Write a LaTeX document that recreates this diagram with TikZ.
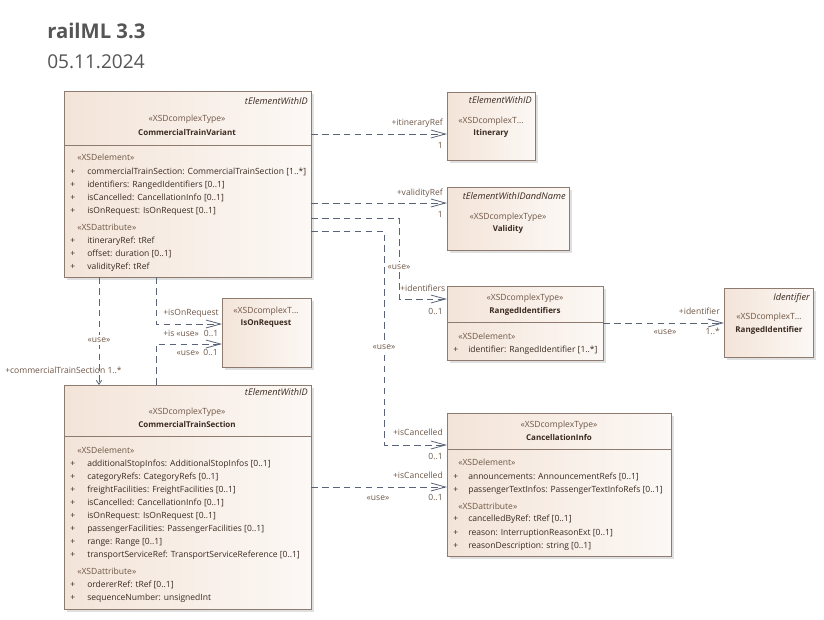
\documentclass[tikz,border=0pt]{standalone}
\usepackage{fontspec}
\setmainfont{Open Sans}
\usetikzlibrary{arrows.meta,shadows}

\definecolor{clsborder}{HTML}{8E7B70}
\definecolor{clsfillA}{HTML}{F3E4D8}
\definecolor{clsfillB}{HTML}{FCF8F5}
\definecolor{txtdark}{HTML}{3A2A20}
\definecolor{txtlight}{HTML}{6E5646}
\definecolor{wire}{HTML}{5B6378}
\definecolor{titlegray}{HTML}{555555}

\newcommand\ft{\fontsize{6.4pt}{7.6pt}\selectfont}
\newcommand\ftb{\fontsize{6.0pt}{7.2pt}\selectfont\bfseries}
\newcommand\fti{\fontsize{6.9pt}{8pt}\selectfont\itshape}
% class box: name, x1, y1, x2, y2 (pixel grid)
\newcommand\clsbox[5]{%
  \node[cls, anchor=north west, minimum width={(#4-#2)*0.75pt},
        minimum height={(#5-#3)*0.75pt}] (#1) at (#2,#3) {};}

\begin{document}
\begin{tikzpicture}[x=0.75pt, y=-0.75pt,
  cls/.style={draw=clsborder, line width=0.6pt, inner sep=0pt, outer sep=0pt,
    left color=clsfillA, right color=clsfillB,
    drop shadow={shadow xshift=2.2pt, shadow yshift=-2.2pt, opacity=0.35, fill=black!35}},
  sep/.style={draw=clsborder, line width=0.6pt},
  t/.style={inner sep=0pt, font=\ft, text=txtdark, text height=4.6pt, text depth=1.3pt},
  st/.style={t, text=txtlight},
  nm/.style={t, font=\ftb},
  it/.style={t, font=\fti, anchor=east},
  lbl/.style={t, text=txtlight},
  use/.style={lbl, fill=white, inner sep=0.6pt},
  wirel/.style={draw=wire, line width=0.6pt, dash pattern=on 5pt off 3.2pt},
  dep/.style={wirel, -{Straight Barb[length=11pt,width=6pt,line width=0.6pt]}},
  smalldep/.style={wirel, -{Straight Barb[length=3pt,width=4pt,line width=0.6pt]}}
]
\useasboundingbox (0,0) rectangle (824,619);

% heading
\node[anchor=west, inner sep=0pt, text=titlegray, font=\fontsize{15.2pt}{18pt}\selectfont\bfseries] (title) at (47,31) {railML 3.3};
\node[anchor=west, inner sep=0pt, text=titlegray, font=\fontsize{14.3pt}{16pt}\selectfont] (date) at (47,62) {05.11.2024};

% ---------- class boxes ----------
\clsbox{ctv}{64}{91}{311}{277}
\clsbox{itin}{447}{92}{535}{160}
\clsbox{valid}{447}{187}{569}{250}
\clsbox{rids}{447}{286}{603}{360}
\clsbox{rid}{724}{288}{813}{357}
\clsbox{isor}{222}{298}{311}{367}
\clsbox{cts}{64}{385}{311}{609}
\clsbox{canc}{447}{413}{671}{556}

\draw[sep] (ctv.west |- 0,145) -- (ctv.east |- 0,145);
\draw[sep] (rids.west |- 0,322) -- (rids.east |- 0,322);
\draw[sep] (cts.west |- 0,436) -- (cts.east |- 0,436);
\draw[sep] (canc.west |- 0,449) -- (canc.east |- 0,449);

% CommercialTrainVariant
\node[it] (ctvbase) at (308,102) {tElementWithID};
\node[st] (ctvst) at (187,119) {«XSDcomplexType»};
\node[nm] (ctvnm) at (187,133) {CommercialTrainVariant};
\node[st, anchor=west] (ctve) at (77,158) {«XSDelement»};
\foreach \yy/\txt in {172/{commercialTrainSection: CommercialTrainSection [1..*]},
                      185/{identifiers: RangedIdentifiers [0..1]},
                      198/{isCancelled: CancellationInfo [0..1]},
                      211/{isOnRequest: IsOnRequest [0..1]}}{
  \node[t, anchor=west] at (70,\yy) {+};
  \node[t, anchor=west] at (87,\yy) {\txt};
}
\node[st, anchor=west] (ctva) at (77,228) {«XSDattribute»};
\foreach \yy/\txt in {241/{itineraryRef: tRef},
                      254/{offset: duration [0..1]},
                      267/{validityRef: tRef}}{
  \node[t, anchor=west] at (70,\yy) {+};
  \node[t, anchor=west] at (87,\yy) {\txt};
}

% Itinerary
\node[it] (itinbase) at (532,101) {tElementWithID};
\node[st] (itinst) at (491,121) {«XSDcomplexT…};
\node[nm] (itinnm) at (491,133) {Itinerary};

% Validity
\node[it] (validbase) at (566,197) {tElementWithIDandName};
\node[st] (validst) at (508,217) {«XSDcomplexType»};
\node[nm] (validnm) at (508,229) {Validity};

% RangedIdentifiers
\node[st] (ridsst) at (525,298) {«XSDcomplexType»};
\node[nm] (ridsnm) at (525,311) {RangedIdentifiers};
\node[st, anchor=west] (ridse) at (458,337) {«XSDelement»};
\node[t, anchor=west] at (453,350) {+};
\node[t, anchor=west] at (468,350) {identifier: RangedIdentifier [1..*]};

% RangedIdentifier
\node[it] (ridbase) at (810,298) {Identifier};
\node[st] (ridst) at (769,317) {«XSDcomplexT…};
\node[nm] (ridnm) at (769,330) {RangedIdentifier};

% IsOnRequest
\node[st] (isorst) at (266,311) {«XSDcomplexT…};
\node[nm] (isornm) at (266,323) {IsOnRequest};

% CommercialTrainSection
\node[it] (ctsbase) at (308,393) {tElementWithID};
\node[st] (ctsst) at (187,412) {«XSDcomplexType»};
\node[nm] (ctsnm) at (187,425) {CommercialTrainSection};
\node[st, anchor=west] (ctse) at (77,451) {«XSDelement»};
\foreach \yy/\txt in {464/{additionalStopInfos: AdditionalStopInfos [0..1]},
                      477/{categoryRefs: CategoryRefs [0..1]},
                      490/{freightFacilities: FreightFacilities [0..1]},
                      503/{isCancelled: CancellationInfo [0..1]},
                      516/{isOnRequest: IsOnRequest [0..1]},
                      529/{passengerFacilities: PassengerFacilities [0..1]},
                      542/{range: Range [0..1]},
                      555/{transportServiceRef: TransportServiceReference [0..1]}}{
  \node[t, anchor=west] at (70,\yy) {+};
  \node[t, anchor=west] at (87,\yy) {\txt};
}
\node[st, anchor=west] (ctsa) at (77,572) {«XSDattribute»};
\foreach \yy/\txt in {585/{ordererRef: tRef [0..1]},
                      598/{sequenceNumber: unsignedInt}}{
  \node[t, anchor=west] at (70,\yy) {+};
  \node[t, anchor=west] at (87,\yy) {\txt};
}

% CancellationInfo
\node[st] (cancst) at (559,425) {«XSDcomplexType»};
\node[nm] (cancnm) at (559,438) {CancellationInfo};
\node[st, anchor=west] (cance) at (458,463) {«XSDelement»};
\foreach \yy/\txt in {477/{announcements: AnnouncementRefs [0..1]},
                      490/{passengerTextInfos: PassengerTextInfoRefs [0..1]}}{
  \node[t, anchor=west] at (453,\yy) {+};
  \node[t, anchor=west] at (468,\yy) {\txt};
}
\node[st, anchor=west] (canca) at (458,507) {«XSDattribute»};
\foreach \yy/\txt in {519/{cancelledByRef: tRef [0..1]},
                      533/{reason: InterruptionReasonExt [0..1]},
                      546/{reasonDescription: string [0..1]}}{
  \node[t, anchor=west] at (453,\yy) {+};
  \node[t, anchor=west] at (468,\yy) {\txt};
}

% ---------- connectors ----------
% itineraryRef
\draw[dep] (ctv.east |- 0,134) -- (itin.west |- 0,134);
\node[lbl, anchor=east] at (443,123) {+itineraryRef};
\node[lbl, anchor=east] at (443,146) {1};

% validityRef
\draw[dep] (ctv.east |- 0,203) -- (valid.west |- 0,203);
\node[lbl, anchor=east] at (443,193) {+validityRef};
\node[lbl, anchor=east] at (443,215) {1};

% identifiers
\coordinate (idbend) at (399,218);
\draw[dep] (ctv.east |- idbend) -- (idbend) |- (rids.west |- 0,299);
\node[use] at (399,267) {«use»};
\node[lbl, anchor=west] at (400,289) {+identifiers};
\node[lbl, anchor=east] at (443,312) {0..1};

% isCancelled (variant)
\coordinate (cbend) at (384,231);
\draw[dep] (ctv.east |- cbend) -- (cbend) |- (canc.west |- 0,445);
\node[use] at (384,347) {«use»};
\node[lbl, anchor=east] at (443,433) {+isCancelled};
\node[lbl, anchor=east] at (443,457) {0..1};

% isCancelled (section)
\draw[dep] (cts.east |- 0,487) -- (canc.west |- 0,487);
\node[lbl, anchor=east] at (443,476) {+isCancelled};
\node[lbl] at (378,498) {«use»};
\node[lbl, anchor=east] at (443,498) {0..1};

% identifier
\draw[dep] (rids.east |- 0,323) -- (rid.west |- 0,323);
\node[lbl, anchor=east] at (720,312) {+identifier};
\node[lbl] at (665,332) {«use»};
\node[lbl, anchor=east] at (720,332) {1..*};

% commercialTrainSection
\draw[smalldep] (ctv.south -| 99,0) -- (cts.north -| 99,0);
\node[use] at (99,340) {«use»};
\node[lbl, anchor=west] at (5,371) {+commercialTrainSection 1..*};

% isOnRequest (section)
\draw[dep] (cts.north -| 156,0) |- (isor.west |- 0,344);
\node[lbl, anchor=west] at (163,334) {+isOnRequest};
\node[lbl] at (188,353) {«use»};
\node[lbl, anchor=east] at (218,353) {0..1};

% isOnRequest (variant); its labels sit on top of the one above
\draw[dep] (ctv.south -| 156,0) |- (isor.west |- 0,324);
\node[lbl, anchor=west] at (163,313) {+isOnRequest};
\node[use, anchor=west, minimum width=20pt] at (174,334) {«use»};
\node[use, anchor=east, minimum width=13pt] at (220,334) {0..1};
\end{tikzpicture}
\end{document}
